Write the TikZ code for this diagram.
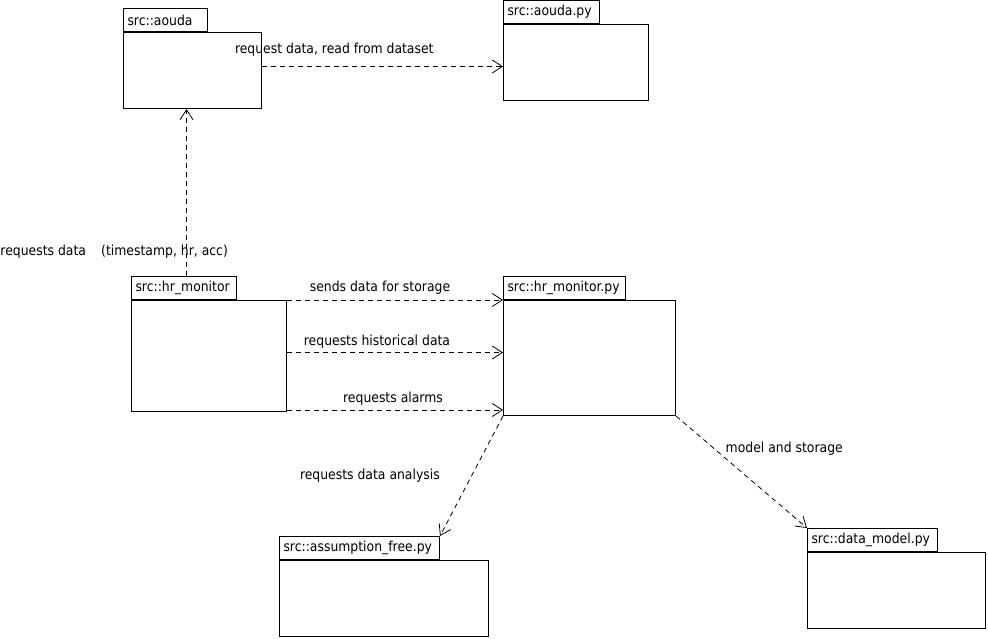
\documentclass[tikz,border=0pt]{standalone}
\usepackage{fontspec}
\setmainfont{DejaVu Sans Condensed}
\usetikzlibrary{arrows.meta}

\begin{document}
\begin{tikzpicture}[x=1pt, y=-1pt, line width=1pt,
        font=\fontsize{13.8}{16}\selectfont,
        pkg/.style={draw, anchor=north west, inner sep=0pt},
        tab/.style={draw, anchor=south west, minimum height=23pt, inner xsep=4pt, inner ysep=0pt, text width=#1, align=left},
        dep/.style={line width=0.8pt, dash pattern=on 5pt off 4pt, -{Straight Barb[length=10pt, width=13pt]}}]
        \useasboundingbox (0,0) rectangle (988,639);

        \node[pkg, minimum width=138pt, minimum height=76pt] (aouda) at (123,32) {};
        \node[tab=76pt] (aoudatab) at (aouda.north west) {src::aouda};
        \node[pkg, minimum width=145pt, minimum height=76pt] (aoudapy) at (503,24) {};
        \node[tab=88pt] (aoudapytab) at (aoudapy.north west) {src::aouda.py};
        \node[pkg, minimum width=155pt, minimum height=111pt] (hrmon) at (131,300) {};
        \node[tab=97pt] (hrmontab) at (hrmon.north west) {src::hr\_monitor};
        \node[pkg, minimum width=172pt, minimum height=115pt] (hrmonpy) at (503,300) {};
        \node[tab=114pt] (hrmonpytab) at (hrmonpy.north west) {src::hr\_monitor.py};
        \node[pkg, minimum width=209pt, minimum height=76pt] (assump) at (279,560) {};
        \node[tab=152pt] (assumptab) at (assump.north west) {src::assumption\_free.py};
        \node[pkg, minimum width=178pt, minimum height=76pt] (datamodel) at (807,552) {};
        \node[tab=122pt] (datamodeltab) at (datamodel.north west) {src::data\_model.py};

        \coordinate (a1) at ([yshift=4pt]aouda.east);
        \coordinate (m1) at ([xshift=2.5pt]hrmontab.north);
        \coordinate (h2) at ([yshift=3.5pt]hrmon.east);
        \coordinate (h3) at ([yshift=2pt]hrmon.south east);

        \draw[dep] (a1) -- (a1 -| aoudapy.west) node[pos=0.3, above=6pt] {request data, read from dataset};
        \draw[dep] (m1) -- (m1 |- aouda.south);
        \node[anchor=west, inner sep=0pt] (reqlabel) at (0,252) {requests data\hspace{1.1em}(timestamp, hr, acc)};
        \draw[dep] (hrmon.north east) -- (hrmonpy.north west) node[midway, above=1.5pt, xshift=-15pt] {sends data for storage};
        \draw[dep] (h2) -- (h2 -| hrmonpy.west) node[midway, above=0.5pt, xshift=-18pt] {requests historical data};
        \draw[dep] (h3) -- (h3 -| hrmonpy.west) node[midway, above=1pt, xshift=-2pt] {requests alarms};
        \draw[dep] (hrmonpy.south west) -- (assumptab.north east) node[midway, left=28pt] {requests data analysis};
        \draw[dep] (hrmonpy.south east) -- (datamodeltab.north west) node[pos=0.29, right=8pt] {model and storage};
    \end{tikzpicture}
\end{document}
